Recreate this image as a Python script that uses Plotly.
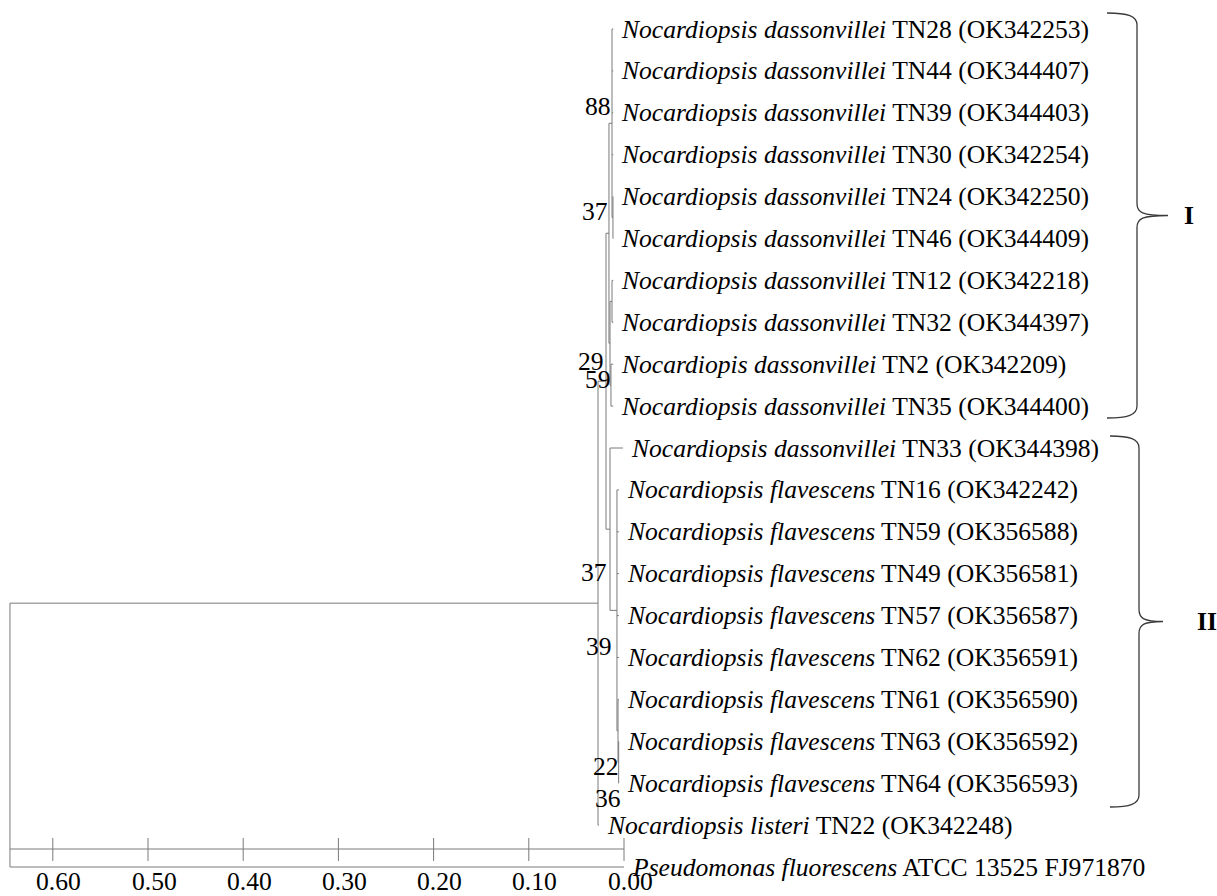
import plotly.graph_objects as go

# ---------------- data ----------------
tip_ids = ["TN28", "TN44", "TN39", "TN30", "TN24", "TN46", "TN12", "TN32", "TN2", "TN35",
           "TN33", "TN16", "TN59", "TN49", "TN57", "TN62", "TN61", "TN63", "TN64", "TN22", "FJ971870"]
tip_species = (["Nocardiopsis dassonvillei"] * 8 + ["Nocardiopis dassonvillei"] +
               ["Nocardiopsis dassonvillei"] * 2 + ["Nocardiopsis flavescens"] * 8 +
               ["Nocardiopsis listeri", "Pseudomonas fluorescens"])
tip_strain = ["TN28 (OK342253)", "TN44 (OK344407)", "TN39 (OK344403)", "TN30 (OK342254)",
              "TN24 (OK342250)", "TN46 (OK344409)", "TN12 (OK342218)", "TN32 (OK344397)",
              "TN2 (OK342209)", "TN35 (OK344400)", "TN33 (OK344398)", "TN16 (OK342242)",
              "TN59 (OK356588)", "TN49 (OK356581)", "TN57 (OK356587)", "TN62 (OK356591)",
              "TN61 (OK356590)", "TN63 (OK356592)", "TN64 (OK356593)", "TN22 (OK342248)",
              "ATCC 13525 FJ971870"]
tip_height = [0.0113] * 10 + [0.0011] + [0.0053] * 8 + [0.0263, 0.0]

node_ids = ["root", "ingroup", "n29", "cladeI", "n88", "n24_46", "n_b", "n12_32", "n59",
            "cladeII", "flav", "n36", "n22"]
node_children = [
    ["ingroup", "FJ971870"],
    ["n29", "TN22"],
    ["cladeI", "cladeII"],
    ["n88", "n_b"],
    ["TN28", "TN44", "TN39", "TN30", "n24_46"],
    ["TN24", "TN46"],
    ["n12_32", "n59"],
    ["TN12", "TN32"],
    ["TN2", "TN35"],
    ["TN33", "flav"],
    ["TN16", "TN59", "TN49", "TN57", "TN62", "n36"],
    ["TN61", "n22"],
    ["TN63", "TN64"],
]
node_height = [0.645, 0.0273, 0.0189, 0.0158, 0.0126, 0.0116, 0.0147, 0.0126, 0.0137,
               0.0147, 0.0074, 0.0063, 0.0056]
node_support = [None, None, 29, 37, 88, None, None, None, 59, 37, 39, 36, 22]

scale_ticks = [0.60, 0.50, 0.40, 0.30, 0.20, 0.10, 0.00]

clade_names = ["I", "II"]
clade_first = ["TN28", "TN33"]
clade_last = ["TN35", "TN64"]

# ---------------- layout constants (pixels) ----------------
W, H = 1217, 896
X0_PX = 624.0      # pixel of distance 0.00
PX_PER_UNIT = 952.0
Y0_PX = 29.0       # pixel of first row
ROW_PX = 41.9

FONT = "Liberation Serif, Times New Roman, serif"
FS = 25.6
LINE_COL = "#7a7a7a"
BRACE_COL = "#3a3a3a"
LABEL_GAP = 9

support_shift = {"n29": (-1, -20), "cladeI": (0, -22), "n88": (0, -17), "n59": (1, -6),
                 "cladeII": (-2, 43), "flav": (-4, 36), "n36": (4, 68), "n22": (1, 4)}

brace_top_px = [13, 436]
brace_bot_px = [418, 807]
brace_x_px = [1137, 1139]
brace_hook_px = [1107, 1110]
brace_tip_px = [1168, 1163]
brace_label_px = [1189, 1207]


def row_of_px(py):
    return (py - Y0_PX) / ROW_PX


# ---------------- compute tree geometry ----------------
xpos = {}
ypos = {}
for i, t in enumerate(tip_ids):
    xpos[t] = tip_height[i]
    ypos[t] = float(i)
children = dict(zip(node_ids, node_children))
for n, h in zip(node_ids, node_height):
    xpos[n] = h


def y_of(n):
    if n in ypos:
        return ypos[n]
    ch = children[n]
    ypos[n] = (y_of(ch[0]) + y_of(ch[-1])) / 2.0
    return ypos[n]


for n in node_ids:
    y_of(n)

lx, ly = [], []
for n in node_ids:
    ch = children[n]
    lx += [xpos[n], xpos[n], None]
    ly += [ypos[ch[0]], ypos[ch[-1]], None]
    for c in ch:
        lx += [xpos[n], xpos[c], None]
        ly += [ypos[c], ypos[c], None]

fig = go.Figure()
fig.add_trace(go.Scatter(x=lx, y=ly, mode="lines", line=dict(color=LINE_COL, width=1),
                         hoverinfo="skip", showlegend=False))

# scale bar
scale_row = row_of_px(849)
tick_top = row_of_px(838)
tick_bot = row_of_px(861)
sx = [xpos["root"], 0.0, None]
sy = [scale_row, scale_row, None]
for t in scale_ticks:
    sx += [t, t, None]
    sy += [tick_top, tick_bot, None]
fig.add_trace(go.Scatter(x=sx, y=sy, mode="lines", line=dict(color=LINE_COL, width=1),
                         hoverinfo="skip", showlegend=False))

annotations = []
for t in scale_ticks:
    annotations.append(dict(x=t, y=row_of_px(881), xref="x", yref="y", text=f"{t:.2f}",
                            showarrow=False, xanchor="center", yanchor="middle", xshift=6,
                            font=dict(family=FONT, size=FS, color="black")))

# tip labels
for i, t in enumerate(tip_ids):
    annotations.append(dict(x=xpos[t], y=ypos[t], xref="x", yref="y",
                            text=f"<i>{tip_species[i]}</i> {tip_strain[i]}",
                            showarrow=False, xanchor="left", yanchor="middle",
                            xshift=LABEL_GAP - 3,
                            font=dict(family=FONT, size=FS, color="black")))

# bootstrap values
for n, s in zip(node_ids, node_support):
    if s is None:
        continue
    dx, dy = support_shift.get(n, (0, 0))
    annotations.append(dict(x=xpos[n], y=ypos[n], xref="x", yref="y", text=str(s),
                            showarrow=False, xanchor="right", yanchor="middle",
                            xshift=dx + 1, yshift=-dy,
                            font=dict(family=FONT, size=FS, color="black")))

# clade braces
shapes = []
for k, name in enumerate(clade_names):
    top = row_of_px(brace_top_px[k])
    bot = row_of_px(brace_bot_px[k])
    mid = (top + bot) / 2.0
    r = 12 / ROW_PX
    r2 = 3 / ROW_PX
    xv = brace_x_px[k] / W
    xh = brace_hook_px[k] / W
    xt = brace_tip_px[k] / W
    xc1 = (brace_x_px[k] - 9) / W
    xc2 = (brace_x_px[k] + 5) / W
    path = (f"M {xh},{top} C {xc1},{top} {xv},{top + r2} {xv},{top + r} "
            f"L {xv},{mid - r} C {xv},{mid - r2} {xc2},{mid} {xt},{mid} "
            f"C {xc2},{mid} {xv},{mid + r2} {xv},{mid + r} "
            f"L {xv},{bot - r} C {xv},{bot - r2} {xc1},{bot} {xh},{bot}")
    shapes.append(dict(type="path", path=path, xref="paper", yref="y",
                       line=dict(color=BRACE_COL, width=1.3)))
    annotations.append(dict(x=brace_label_px[k] / W, y=mid, xref="paper", yref="y",
                            text=f"<b>{name}</b>", showarrow=False, xanchor="center",
                            yanchor="middle",
                            font=dict(family=FONT, size=FS, color="black")))

x_left = X0_PX / PX_PER_UNIT
x_right = (X0_PX - W) / PX_PER_UNIT
y_bottom = row_of_px(H)
y_top = row_of_px(0)

fig.update_layout(
    width=W, height=H, margin=dict(l=0, r=0, t=0, b=0),
    paper_bgcolor="white", plot_bgcolor="white",
    xaxis=dict(range=[x_left, x_right], visible=False, fixedrange=True),
    yaxis=dict(range=[y_bottom, y_top], visible=False, fixedrange=True),
    annotations=annotations, shapes=shapes, showlegend=False,
)

fig.write_html("out.html", post_script="document.body.style.margin='0';",
               config={"displayModeBar": False})
